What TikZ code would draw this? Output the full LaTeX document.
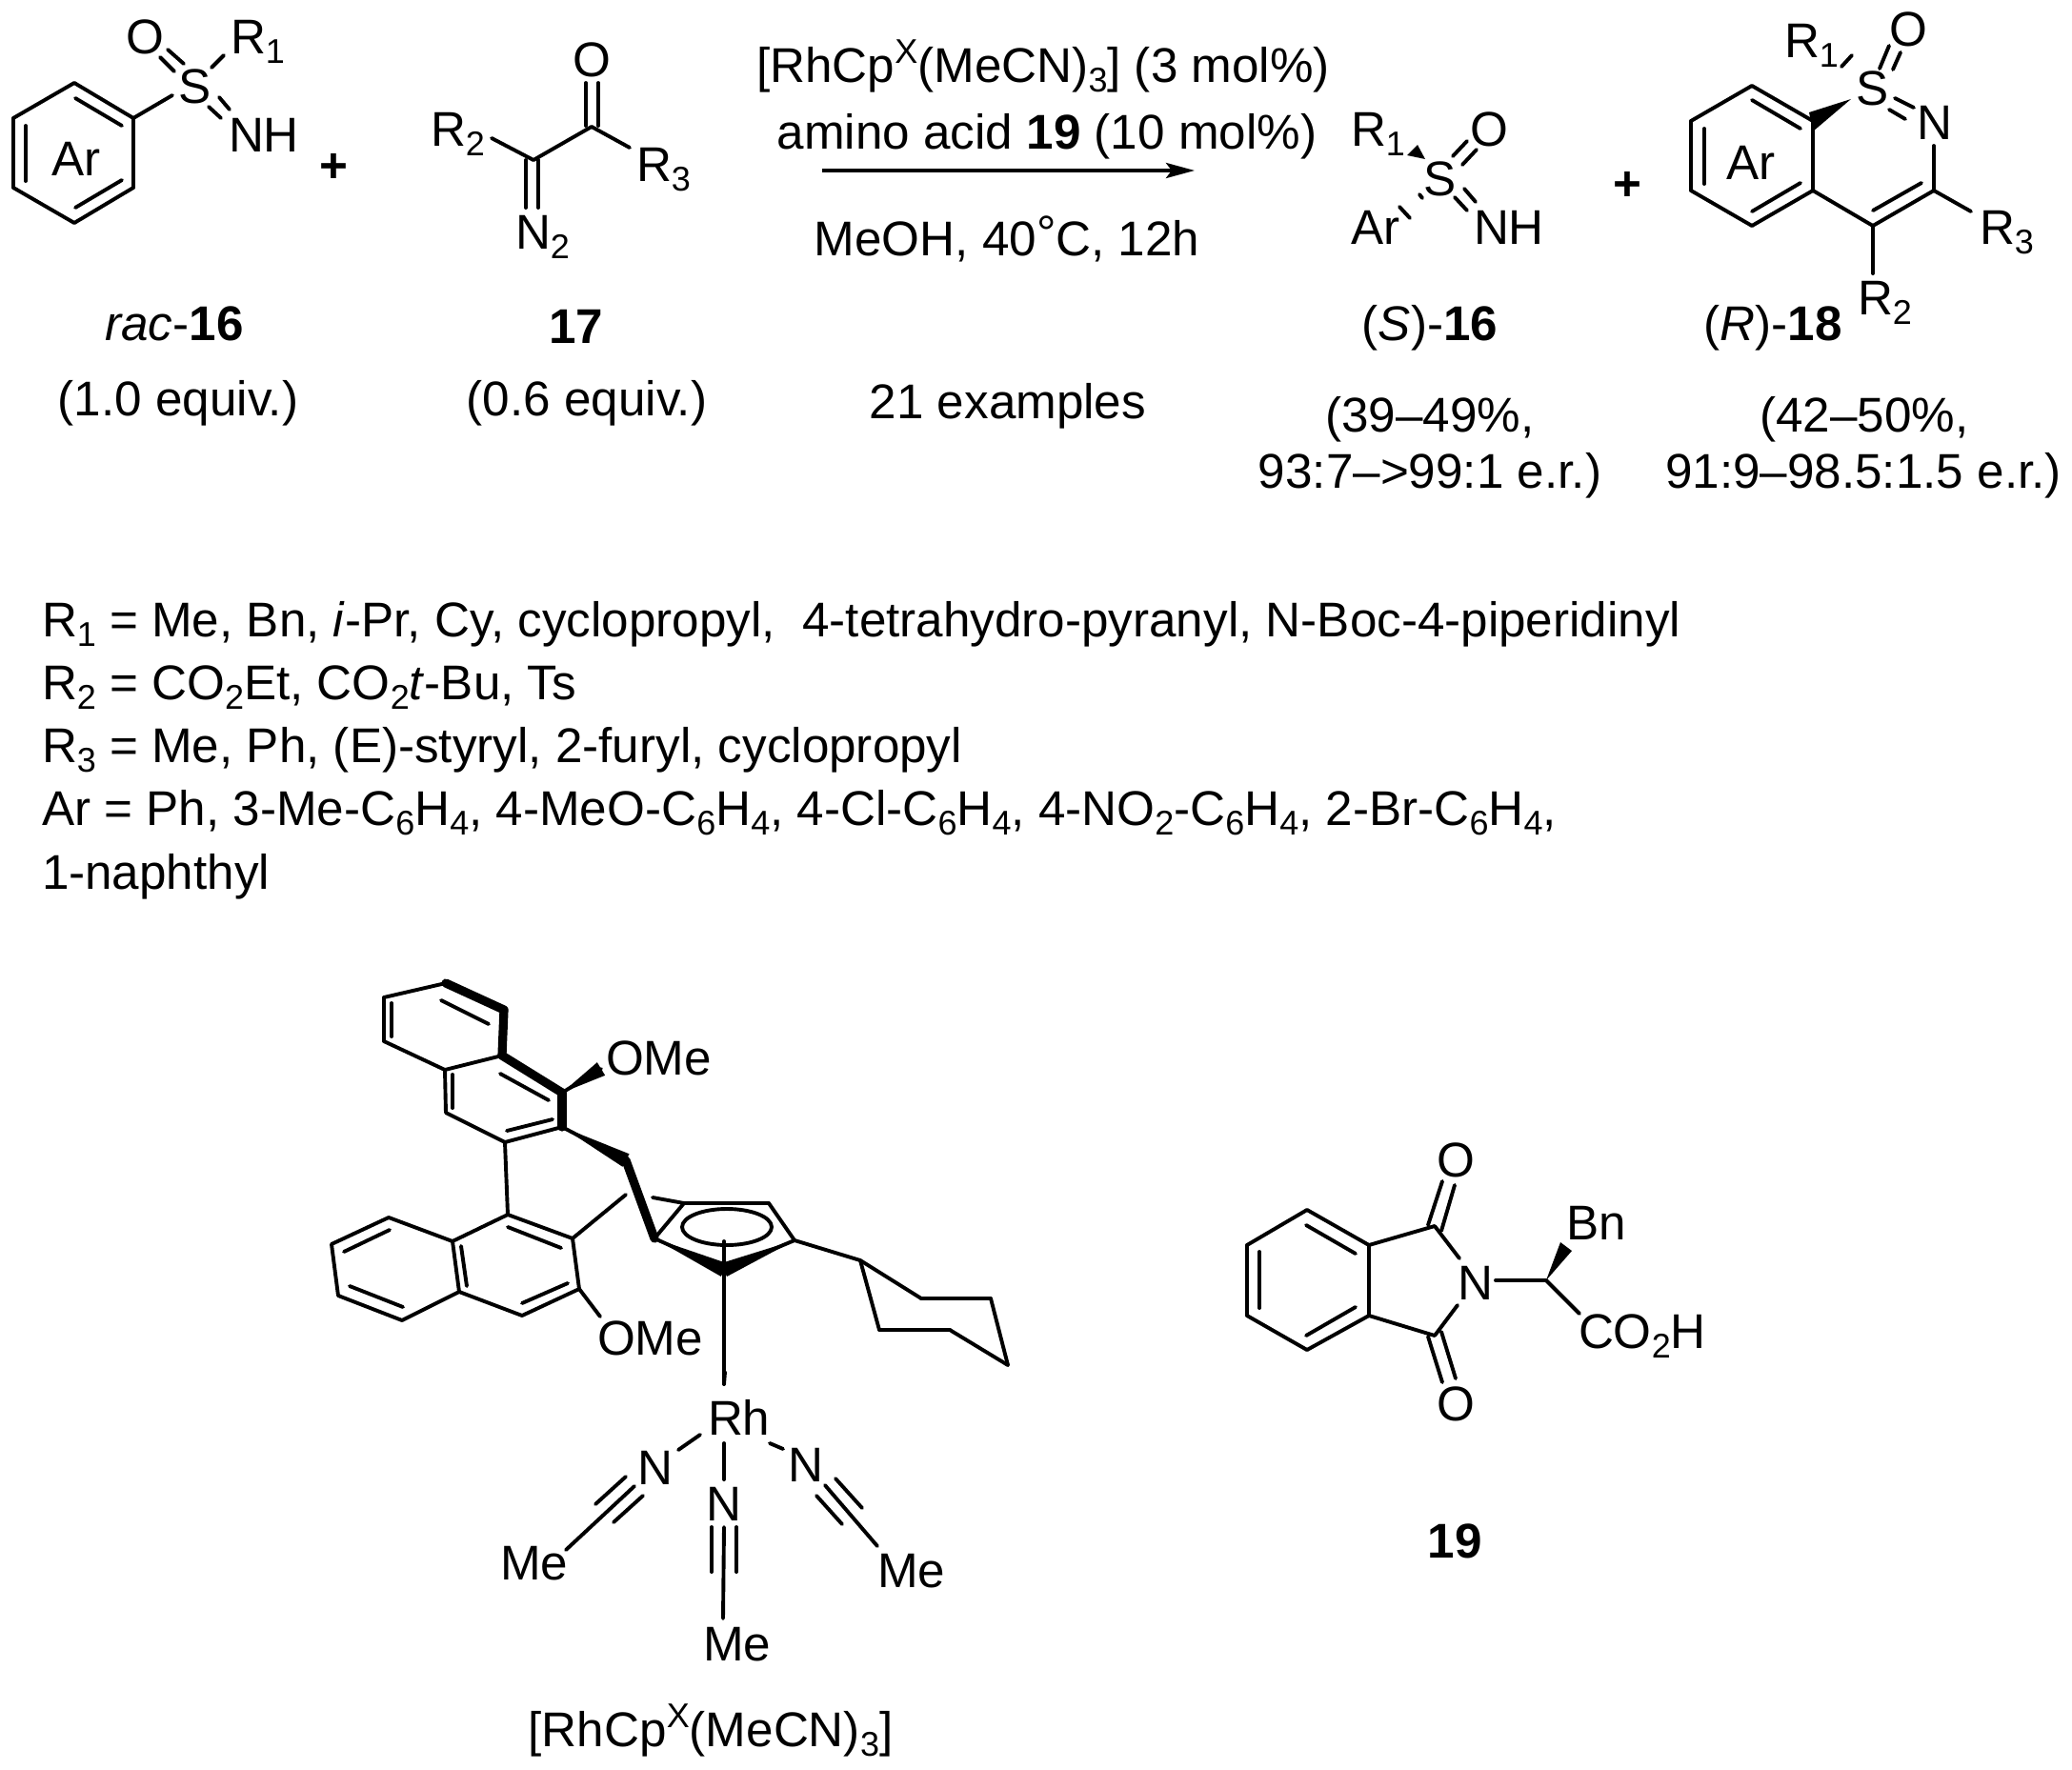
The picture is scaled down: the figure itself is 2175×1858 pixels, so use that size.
\documentclass[tikz,border=0pt]{standalone}
\usepackage{fontspec}
\setmainfont{Liberation Sans}
\usetikzlibrary{arrows.meta,calc}
\newcommand\sbs[1]{\raisebox{-5pt}{\fontsize{18}{20}\selectfont #1}}
\newcommand\sps[1]{\raisebox{10pt}{\fontsize{18}{20}\selectfont #1}}
\newcommand\taper[3]{\fill[black] (#1) -- ($(#2)!#3!90:(#1)$) -- ($(#2)!#3!-90:(#1)$) -- cycle;}
\tikzset{
  bond/.style={line width=1.95pt,line cap=round,line join=round},
  boldbond/.style={line width=4.6pt,line cap=round,line join=round},
  txt/.style={inner sep=0pt,outer sep=0pt,font=\fontsize{25.6}{30}\selectfont,text=black},
  lab/.style={txt,anchor=base west},
  cen/.style={txt,anchor=base}
}
\begin{document}
\begin{tikzpicture}[x=0.5pt,y=-0.5pt]
\useasboundingbox[fill=white] (0,0) rectangle (2175,1858);
% ---------- atoms and bond end points
\foreach \n/\x/\y in {
 % 16 left
 a1/78/87,a2/140/124,a3/140/197,a4/78/234,a5/14/197,a6/14/124,
 a7/79/103,a8/128/132,a9/128/189,a10/79/218,a11/27/132,a12/27/190,
 a13/181/100,a14/176/52,a15/193/67,a16/168/60,a17/183/75,a18/222/71,a19/235/58,
 a20/230/102,a21/241/115,a22/219/112,a23/232/124,
 % 17
 b1/621/133,b2/560/168,b3/516/145,b4/661/155,b5/615/87,b6/615/132,b7/628/87,b8/628/132,
 b9/552/168,b10/552/218,b11/565/168,b12/565/218,
 % S-16
 c1/1488/152,c2/1477/163,c3/1496/167,c4/1540/148,c5/1525/164,c6/1550/157,c7/1535/173,
 c8/1490/204,c9/1493/208,c10/1469/217,c11/1480/229,c12/1537/198,c13/1549/212,c14/1527/207,c15/1540/221,
 % R-18
 d1/1839/90,d2/1903/127,d3/1903/200,d4/1839/237,d5/1775/200,d6/1775/127,
 d7/1839/105,d8/1890/135,d9/1890/192,d10/1839/222,d11/1789/135,d12/1789/193,
 d13/1943/104,d14/1899/118,d15/1903/138,d16/1933/70,d17/1944/58,
 d18/1973/72,d19/1983/48,d20/1987/73,d21/1995/55,d22/1989/103,d23/2009/113,d24/1983/115,d25/2000/125,
 d26/2030/153,d27/2030/200,d28/1966/237,d29/2017/192,d30/1966/221,d31/1966/287,d32/2069/222,
 % catalyst upper naphthalene
 e1/468/1032,e2/529/1060,e3/527/1108,e4/467/1123,e5/403/1093,e6/403/1047,
 e7/463/1050,e8/513/1075,e9/411/1053,e10/411/1088,
 e11/590/1147,e12/590/1183,e13/530/1199,e14/468/1168,
 e15/525/1127,e16/576/1155,e17/532/1187,e18/580/1175,e19/475/1128,e20/475/1163,
 e21/631/1122,e22/657/1218,
 % lower naphthalene
 f1/533/1275,f2/601/1300,f3/608/1353,f4/548/1381,f5/482/1356,f6/475/1303,
 f7/408/1278,f8/348/1306,f9/355/1360,f10/422/1386,
 f11/533/1288,f12/589/1310,f13/548/1368,f14/596/1347,f15/490/1350,f16/484/1308,
 f17/409/1291,f18/361/1314,f19/367/1350,f20/423/1372,f21/657/1254,f22/630/1382,
 % Cp
 g1/687/1300,g2/718/1263,g3/807/1263,g4/834/1302,g5/760/1333,g6/685/1257,g7/763/1288,g8/760/1303,g9/760/1453,
 % Cy
 h1/903/1323,h2/967/1363,h3/1040/1363,h4/1058/1433,h5/997/1396,h6/923/1396,
 % MeCN
 k1/761/1440,k2/760/1515,k3/760/1553,k4/747/1603,k5/747/1650,k6/760/1603,k7/759/1699,k8/773/1603,k9/773/1650,
 m1/712/1522,m2/735/1506,m3/666/1560,m4/594/1627,m5/657/1550,m6/625/1579,m7/675/1570,m8/644/1598,
 n1/808/1515,n2/822/1521,n3/866/1559,n4/921/1623,n5/877/1552,n6/905/1583,n7/857/1570,n8/884/1600,
 % 19
 p1/1372/1270,p2/1437/1307,p3/1437/1381,p4/1372/1417,p5/1309/1381,p6/1309/1307,
 p7/1371/1286,p8/1423/1316,p9/1423/1372,p10/1371/1402,p11/1322/1314,p12/1322/1373,
 p13/1506/1287,p14/1532/1321,p15/1506/1402,p16/1530/1370,p17/1570/1344,p18/1623/1344,
 p19/1499/1286,p20/1514/1240,p21/1513/1292,p22/1527/1244,
 p23/1499/1403,p24/1514/1451,p25/1513/1398,p26/1528/1447,
 p27/1638/1304,p28/1650/1313,p29/1658/1379,
 % arrow
 q1/863/179,q2/1254/179}
 {\coordinate (\n) at (\x,\y);}
% ---------- ordinary bonds
\foreach \s/\t in {
 a1/a2,a2/a3,a3/a4,a4/a5,a5/a6,a6/a1,a7/a8,a9/a10,a11/a12,a2/a13,a14/a15,a16/a17,a18/a19,a20/a21,a22/a23,
 b1/b2,b2/b3,b1/b4,b5/b6,b7/b8,b9/b10,b11/b12,
 c4/c5,c6/c7,c8/c9,c10/c11,c12/c13,c14/c15,
 d1/d2,d2/d3,d3/d4,d4/d5,d5/d6,d6/d1,d7/d8,d9/d10,d11/d12,d16/d17,d18/d19,d20/d21,d22/d23,d24/d25,
 d26/d27,d27/d28,d3/d28,d29/d30,d28/d31,d27/d32,
 e6/e1,e5/e6,e4/e5,e3/e4,e7/e8,e9/e10,e12/e13,e13/e14,e14/e4,e15/e16,e17/e18,e19/e20,e13/f1,
 f1/f2,f2/f3,f3/f4,f4/f5,f5/f6,f6/f1,f6/f7,f7/f8,f8/f9,f9/f10,f10/f5,
 f11/f12,f13/f14,f15/f16,f17/f18,f19/f20,f2/f21,f3/f22,
 g1/g2,g2/g3,g3/g4,g6/g2,g8/g9,g4/h1,
 h1/h2,h2/h3,h3/h4,h4/h5,h5/h6,h6/h1,
 k1/g9,k2/k3,k4/k5,k6/k7,k8/k9,
 m1/m2,m3/m4,m5/m6,m7/m8,n1/n2,n3/n4,n5/n6,n7/n8,
 p1/p2,p2/p3,p3/p4,p4/p5,p5/p6,p6/p1,p7/p8,p9/p10,p11/p12,
 p2/p13,p13/p14,p3/p15,p15/p16,p17/p18,p18/p29,
 p19/p20,p21/p22,p23/p24,p25/p26,
 e11/e21,e12/e22,g1/g5,g4/g5}
 {\draw[bond] (\s) -- (\t);}
\draw[bond] (g7) ellipse (47 and 19);
% ---------- bold bonds and wedges
\foreach \s/\t in {e1/e2,e2/e3,e3/e11,e11/e12,e22/g1}
 {\draw[boldbond] (\s) -- (\t);}
\taper{e11}{e21}{4pt}
\taper{e12}{e22}{3.8pt}
\taper{g1}{g5}{3.8pt}
\taper{g4}{g5}{3.8pt}
\fill (c1) -- (c2) -- (c3) -- cycle;
\fill (d13) -- (d14) -- (d15) -- cycle;
\fill (p18) -- (p27) -- (p28) -- cycle;
% ---------- arrow
\draw[line width=1.9pt,-{Stealth[length=15pt,width=8pt,inset=3pt]}] (q1) -- (q2);
% ---------- structure labels
\node[cen] (t1) at (80,184) {Ar};
\node[cen] (t2) at (205,108) {S};
\node[cen] (t3) at (152,56) {O};
\node[lab] (t4) at (242,56) {R\sbs{1}};
\node[lab] (t5) at (240,159) {NH};
\node[cen] (t6) at (350,191) {\textbf{+}};
\node[lab] (t7) at (452,153) {R\sbs{2}};
\node[cen] (t8) at (621,80) {O};
\node[lab] (t9) at (668,190) {R\sbs{3}};
\node[lab] (t10) at (541,261) {N\sbs{2}};
\node[lab] (t11) at (1418,153) {R\sbs{1}};
\node[cen] (t12) at (1563,153) {O};
\node[cen] (t13) at (1512,205) {S};
\node[lab] (t14) at (1418,256) {Ar};
\node[lab] (t15) at (1547,256) {NH};
\node[cen] (t16) at (1708,210) {\textbf{+}};
\node[cen] (t17) at (1838,188) {Ar};
\node[cen] (t18) at (1966,110) {S};
\node[cen] (t19) at (2003,48) {O};
\node[lab] (t20) at (1873,60) {R\sbs{1}};
\node[cen] (t21) at (2031,146) {N};
\node[lab] (t22) at (1950,330) {R\sbs{2}};
\node[lab] (t23) at (2078,256) {R\sbs{3}};
% ---------- reaction text
\node[cen] (u1) at (1095,86) {[RhCp\sps{X}(MeCN)\sbs{3}] (3 mol\%)};
\node[cen] (u2) at (1099,156) {amino acid \textbf{19} (10 mol\%)};
\node[cen] (u3) at (1057,268) {MeOH, 40\raisebox{3pt}{°}C, 12h};
\node[cen] (u4) at (183,357) {\textit{rac}-\textbf{16}};
\node[cen] (u5) at (187,436) {(1.0 equiv.)};
\node[cen] (u6) at (605,360) {\textbf{17}};
\node[cen] (u7) at (616,436) {(0.6 equiv.)};
\node[cen] (u8) at (1058,439) {21 examples};
\node[cen] (u9) at (1501,357) {(\textit{S})-\textbf{16}};
\node[cen] (u10) at (1501,453) {(39--49\%,};
\node[cen] (u11) at (1501,512) {93:7--\symbol{62}99:1 e.r.)};
\node[cen] (u12) at (1861,357) {(\textit{R})-\textbf{18}};
\node[cen] (u13) at (1957,453) {(42--50\%,};
\node[cen] (u14) at (1956,512) {91:9--98.5:1.5 e.r.)};
% ---------- substituent list
\node[lab] (v1) at (44,668) {R\sbs{1} = Me, Bn, \textit{i}-Pr, Cy, cyclopropyl,\ \ 4-tetrahydro-pyranyl, N-Boc-4-piperidinyl};
\node[lab] (v2) at (44,734) {R\sbs{2} = CO\sbs{2}Et, CO\sbs{2}\textit{t}-Bu, Ts};
\node[lab] (v3) at (44,800) {R\sbs{3} = Me, Ph, (E)-styryl, 2-furyl, cyclopropyl};
\node[lab] (v4) at (44,866) {Ar = Ph, 3-Me-C\sbs{6}H\sbs{4}, 4-MeO-C\sbs{6}H\sbs{4}, 4-Cl-C\sbs{6}H\sbs{4}, 4-NO\sbs{2}-C\sbs{6}H\sbs{4}, 2-Br-C\sbs{6}H\sbs{4},};
\node[lab] (v5) at (44,933) {1-naphthyl};
% ---------- catalyst labels
\node[lab] (w1) at (636,1128) {OMe};
\node[lab] (w2) at (627,1422) {OMe};
\node[lab] (w3) at (743,1506) {Rh};
\node[cen] (w4) at (760,1596) {N};
\node[cen] (w5) at (688,1558) {N};
\node[cen] (w6) at (846,1555) {N};
\node[lab] (w7) at (738,1743) {Me};
\node[lab] (w8) at (525,1658) {Me};
\node[lab] (w9) at (921,1666) {Me};
\node[cen] (w10) at (746,1833) {[RhCp\sps{X}(MeCN)\sbs{3}]};
% ---------- 19 labels
\node[cen] (x1) at (1528,1235) {O};
\node[cen] (x2) at (1528,1491) {O};
\node[cen] (x3) at (1549,1364) {N};
\node[lab] (x4) at (1644,1301) {Bn};
\node[lab] (x5) at (1657,1415) {CO\sbs{2}H};
\node[cen] (x6) at (1527,1635) {\textbf{19}};
\end{tikzpicture}
\end{document}
